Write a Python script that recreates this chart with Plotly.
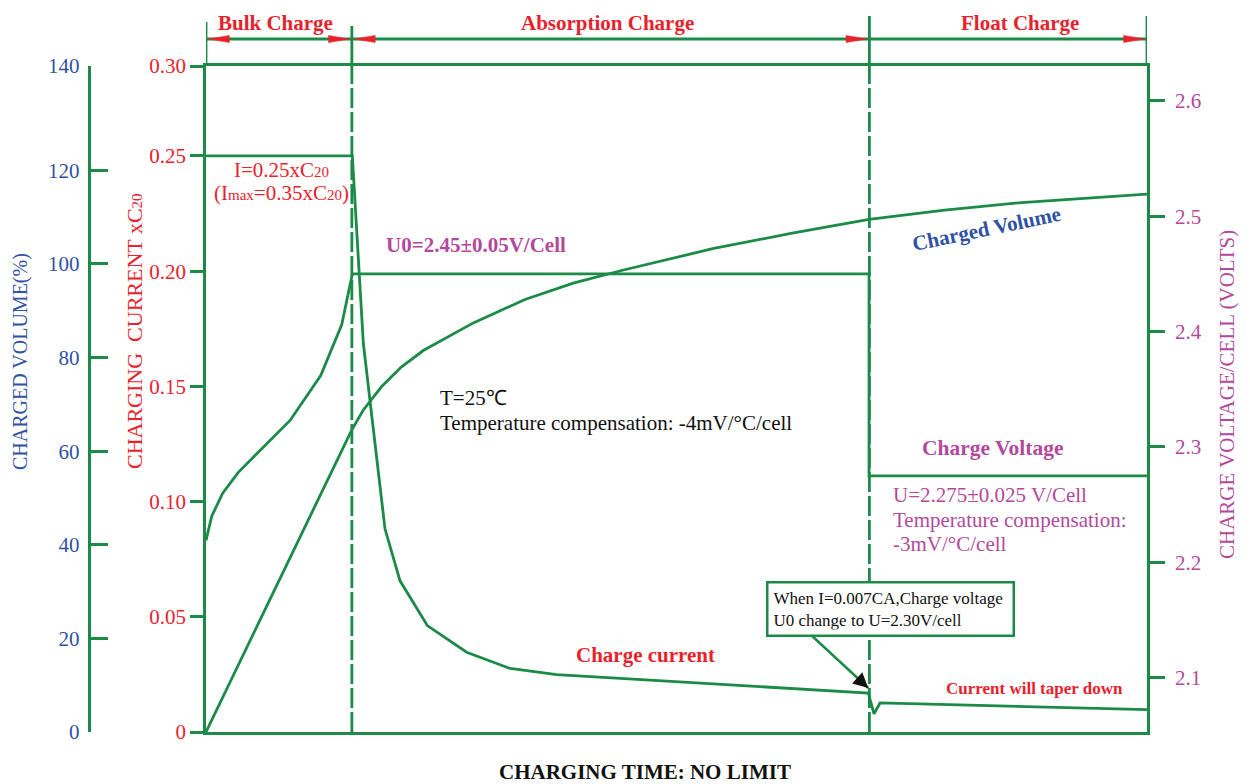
import plotly.graph_objects as go

# ---------------------------------------------------------------------------
# Data: charging profile of a lead-acid cell (relative charging time 0-100)
# ---------------------------------------------------------------------------
PHASE_EDGES = [0, 15.5, 70.5, 100]
PHASE_NAMES = ["Bulk Charge", "Absorption Charge", "Float Charge"]

# charging current, multiples of C20
CURRENT_T = [0, 15.55, 16.72, 19.02, 20.62, 23.52, 27.70, 32.31, 37.27, 41.87,
             56.75, 70.38, 70.99, 71.63, 100]
CURRENT_I = [0.25, 0.25, 0.1686, 0.0882, 0.0656, 0.0462, 0.0346, 0.0276, 0.0249,
             0.0238, 0.0201, 0.0169, 0.0079, 0.0126, 0.0097]

# charged volume, %
VOLUME_T = [0, 15.48, 16.72, 18.67, 20.72, 23.09, 28.41, 33.90, 39.03, 44.37,
            53.96, 62.15, 70.46, 78.49, 86.66, 100]
VOLUME_P = [0, 64.5, 68.8, 73.8, 77.9, 81.5, 87.4, 92.4, 95.9, 98.7,
            103.3, 106.5, 109.5, 111.5, 113.1, 114.9]

# charge voltage per cell, V
VOLT_T = [0, 0.61, 1.77, 3.43, 8.93, 12.19, 14.42, 15.55, 70.46, 70.46, 100]
VOLT_U = [2.219, 2.240, 2.260, 2.278, 2.323, 2.362, 2.406, 2.45, 2.45, 2.275, 2.275]

CURRENT_TICKS = [0, 0.05, 0.10, 0.15, 0.20, 0.25]
CURRENT_TICK_TEXT = ["0", "0.05", "0.10", "0.15", "0.20", "0.25", "0.30"]
VOLUME_TICKS = [0, 20, 40, 60, 80, 100, 120]
VOLUME_TICK_TEXT = ["0", "20", "40", "60", "80", "100", "120", "140"]
VOLT_TICKS = [2.1, 2.2, 2.3, 2.4, 2.5, 2.6]

CURRENT_RANGE = [0, 0.28904]
VOLUME_RANGE = [0, 142.28]
VOLT_RANGE = [2.0529, 2.6303]

# ---------------------------------------------------------------------------
# Styling
# ---------------------------------------------------------------------------
GREEN = "#1b8b47"
RED = "#e8222b"
BLUE = "#2f52a3"
MAGENTA = "#b4499c"
INK = "#111111"
FONT = "Liberation Serif"
LW = 2.8

W, H = 1250, 784
ML, MR, MT, MB = 80, 40, 66, 52
PW = W - ML - MR
PH = H - MT - MB
X_LEFT, X_RIGHT = 206, 1147


def px(x):
    """page pixel column -> paper x"""
    return (x - ML) / PW


def py(y):
    """page pixel row -> paper y"""
    return (H - MB - y) / PH


t_per_px = (PHASE_EDGES[-1] - PHASE_EDGES[0]) / (X_RIGHT - X_LEFT)

fig = go.Figure()

line_style = dict(color=GREEN, width=LW)
fig.add_trace(go.Scatter(x=CURRENT_T, y=CURRENT_I, mode="lines", line=line_style,
                         yaxis="y", hoverinfo="skip"))
fig.add_trace(go.Scatter(x=VOLUME_T, y=VOLUME_P, mode="lines", line=line_style,
                         yaxis="y2", hoverinfo="skip"))
fig.add_trace(go.Scatter(x=VOLT_T, y=VOLT_U, mode="lines", line=line_style,
                         yaxis="y3", hoverinfo="skip"))

shapes = []
annotations = []

# phase boundaries: solid above the frame, dashed inside it
header_tops = [22, 26, 16, 16]
for i, edge in enumerate(PHASE_EDGES):
    shapes.append(dict(type="line", xref="x", yref="paper", x0=edge, x1=edge,
                       y0=1, y1=py(header_tops[i]), line=dict(color=GREEN, width=LW),
                       layer="above"))
    if 0 < i < len(PHASE_EDGES) - 1:
        shapes.append(dict(type="line", xref="x", yref="paper", x0=edge, x1=edge,
                           y0=0, y1=1, line=dict(color=GREEN, width=LW, dash="20px,4px"),
                           layer="below"))

# dimension line with red arrow heads over the phases
y_dim = py(39)
shapes.append(dict(type="line", xref="x", yref="paper", x0=PHASE_EDGES[0],
                   x1=PHASE_EDGES[-1], y0=y_dim, y1=y_dim,
                   line=dict(color=GREEN, width=LW)))
head_len = 21 * t_per_px
head_half = 3.6 / PH


def arrow_head(tip, direction):
    base = tip - direction * head_len
    return dict(type="path", xref="x", yref="paper",
                path=f"M {tip},{y_dim} L {base},{y_dim + head_half} "
                     f"L {base},{y_dim - head_half} Z",
                fillcolor=RED, line=dict(color=RED, width=0.5), layer="above")


def label(x, y, text, color, size=21, xanchor="center", angle=0, bold=False):
    if bold:
        text = f"<b>{text}</b>"
    annotations.append(dict(xref="paper", yref="paper", x=px(x), y=py(y), text=text,
                            showarrow=False, textangle=angle, align="left",
                            font=dict(family=FONT, size=size, color=color),
                            xanchor=xanchor, yanchor="middle"))


header_centers = [275, 607, 1020]
for i in range(len(PHASE_NAMES)):
    a, b = PHASE_EDGES[i], PHASE_EDGES[i + 1]
    if i < 2:
        shapes.append(arrow_head(a + 0.25, -1))
    shapes.append(arrow_head(b - 0.25, 1))
    label(header_centers[i], 23, PHASE_NAMES[i], RED, size=21, bold=True)

sub = '<span style="font-size:15px">{}</span>'

# axis titles
label(20, 362, "CHARGED VOLUME(%)", BLUE, size=20, angle=-90)
label(134, 331, "CHARGING\u00a0\u00a0CURRENT x" + "C" + sub.format("20"), RED,
      size=22, angle=-90)
label(1227, 395, "CHARGE VOLTAGE/CELL (VOLTS)", MAGENTA, size=21, angle=-90)

# in-plot notes
label(281, 170, "I=0.25xC" + sub.format("20"), RED, size=21)
label(281, 193, "(I" + sub.format("max") + "=0.35xC" + sub.format("20") + ")", RED, size=21)
label(384, 245, "U0=2.45±0.05V/Cell", MAGENTA, size=21, xanchor="left", bold=True)
label(438, 398, "T=25℃", INK, size=21, xanchor="left")
label(438, 423, "Temperature compensation: -4mV/°C/cell", INK, size=21, xanchor="left")
label(645, 655, "Charge current", RED, size=21, bold=True)
label(986, 229, "Charged Volume", BLUE, size=21, angle=-11.7, bold=True)
label(993, 448, "Charge Voltage", MAGENTA, size=21.5, bold=True)
label(891, 495, "U=2.275±0.025 V/Cell", MAGENTA, size=21, xanchor="left")
label(891, 520, "Temperature compensation:", MAGENTA, size=21, xanchor="left")
label(891, 544, "-3mV/°C/cell", MAGENTA, size=21, xanchor="left")
label(1034, 688, "Current will taper down", RED, size=17, bold=True)
label(645, 772, "CHARGING TIME: NO LIMIT", INK, size=21, bold=True)

# switch-over call-out box with a leader line to the current dip
box_cx, box_cy = 890.5, 608.7
annotations.append(dict(xref="paper", yref="paper", x=px(box_cx), y=py(box_cy),
                        text="When I=0.007CA,Charge voltage<br>U0 change to U=2.30V/cell",
                        showarrow=False, align="left", bordercolor=GREEN, borderwidth=2.5,
                        borderpad=5, bgcolor="white", width=234,
                        font=dict(family=FONT, size=17, color=INK),
                        xanchor="center", yanchor="middle"))
tip_t, tip_i = CURRENT_T[11], CURRENT_I[11] + 0.0022
tail_t = (806.7 - X_LEFT) * t_per_px
tail_i = CURRENT_RANGE[1] * py(631)
shapes.append(dict(type="line", xref="x", yref="y", x0=tail_t, y0=tail_i,
                   x1=tip_t, y1=tip_i, line=dict(color=GREEN, width=2.5)))
annotations.append(dict(xref="x", yref="y", x=tip_t, y=tip_i, text="", showarrow=True,
                        ax=-12, ay=-11, arrowhead=2, arrowsize=1.5, arrowwidth=2,
                        arrowcolor=INK, standoff=0))

axis_font = dict(family=FONT, size=21)
fig.update_layout(
    width=W, height=H,
    margin=dict(l=ML, r=MR, t=MT, b=MB),
    paper_bgcolor="white", plot_bgcolor="white",
    showlegend=False,
    xaxis=dict(domain=[px(X_LEFT), px(X_RIGHT)], range=[PHASE_EDGES[0], PHASE_EDGES[-1]],
               showline=True, linecolor=GREEN, linewidth=LW, mirror=True,
               showticklabels=False, ticks="", showgrid=False, zeroline=False),
    yaxis=dict(range=CURRENT_RANGE, tickvals=CURRENT_TICKS + [CURRENT_RANGE[1]],
               ticktext=CURRENT_TICK_TEXT, ticks="outside", ticklen=13, tickwidth=LW,
               tickcolor=GREEN, showline=True, linecolor=GREEN, linewidth=LW,
               showgrid=False, zeroline=False, tickfont=dict(color=RED, **axis_font)),
    yaxis2=dict(range=VOLUME_RANGE, tickvals=VOLUME_TICKS + [VOLUME_RANGE[1]],
                ticktext=VOLUME_TICK_TEXT, overlaying="y", side="left", anchor="free",
                position=px(88.5), ticks="inside", ticklen=18, tickwidth=LW,
                tickcolor=GREEN, showline=True, linecolor=GREEN, linewidth=LW,
                ticklabelstandoff=4,
                showgrid=False, zeroline=False, tickfont=dict(color=BLUE, **axis_font)),
    yaxis3=dict(range=VOLT_RANGE, tickvals=VOLT_TICKS,
                ticktext=[f"{v:.1f}" for v in VOLT_TICKS], overlaying="y", side="right",
                anchor="x", ticks="outside", ticklen=15, tickwidth=LW, tickcolor=GREEN,
                showline=True, linecolor=GREEN, linewidth=LW, showgrid=False,
                ticklabelstandoff=6,
                zeroline=False, tickfont=dict(color=MAGENTA, **axis_font)),
    shapes=shapes,
    annotations=annotations,
)

fig.write_html("out.html")
